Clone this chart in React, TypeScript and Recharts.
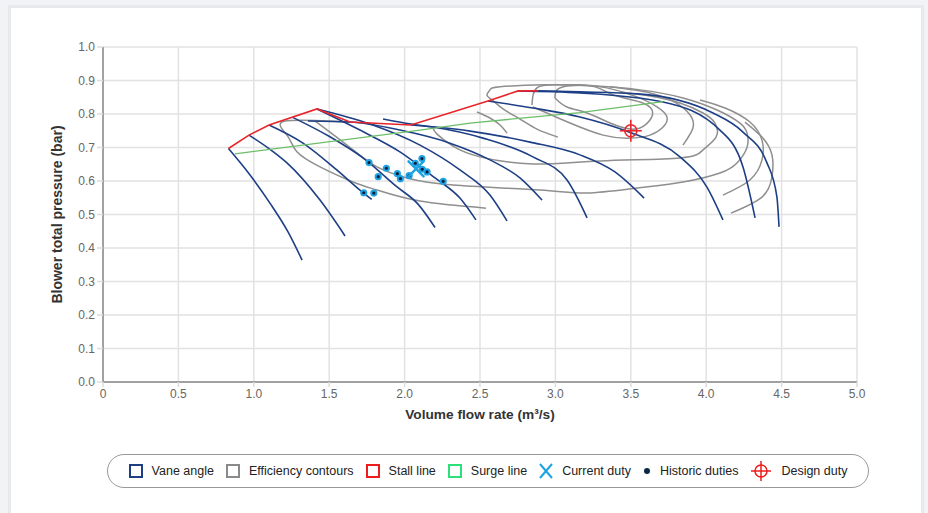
import { ComposedChart, Line, XAxis, YAxis, CartesianGrid } from "recharts";

type P = [number, number];

const xTicks = [0, 0.5, 1, 1.5, 2, 2.5, 3, 3.5, 4, 4.5, 5];
const yTicks = [0, 0.1, 0.2, 0.3, 0.4, 0.5, 0.6, 0.7, 0.8, 0.9, 1];

// vane angle curves, left to right
const vane1: P[] = [[0.832, 0.697], [0.975, 0.618], [1.107, 0.534], [1.227, 0.448], [1.32, 0.364]];
const vane2: P[] = [[0.968, 0.737], [1.094, 0.699], [1.22, 0.654], [1.439, 0.543], [1.605, 0.436]];
const vane3: P[] = [[1.101, 0.767], [1.326, 0.713], [1.55, 0.633], [1.704, 0.573], [1.782, 0.545]];
const vane4: P[] = [[1.258, 0.79], [1.505, 0.732], [1.724, 0.669], [1.948, 0.583], [2.089, 0.531], [2.202, 0.461]];
const vane5: P[] = [[1.419, 0.815], [1.704, 0.752], [1.969, 0.687], [2.202, 0.609], [2.367, 0.549], [2.473, 0.484]];
const vane6: P[] = [[1.419, 0.815], [1.771, 0.77], [2.102, 0.707], [2.367, 0.633], [2.566, 0.558], [2.679, 0.481]];
const vane7: P[] = [[1.359, 0.779], [1.638, 0.776], [1.969, 0.752], [2.301, 0.713], [2.566, 0.663], [2.765, 0.609], [2.911, 0.543]];
const vane8: P[] = [[1.857, 0.785], [2.042, 0.77], [2.188, 0.761], [2.52, 0.728], [2.851, 0.672], [3.077, 0.603], [3.21, 0.49]];
const vane9: P[] = [[2.042, 0.767], [2.434, 0.749], [2.832, 0.716], [3.163, 0.678], [3.395, 0.627], [3.588, 0.549]];
const vane10: P[] = [[2.553, 0.839], [2.851, 0.818], [3.163, 0.791], [3.488, 0.746], [3.826, 0.672], [4.005, 0.582], [4.111, 0.484]];
const vane11: P[] = [[2.752, 0.869], [3.163, 0.863], [3.714, 0.836], [4.091, 0.752], [4.244, 0.642], [4.324, 0.49]];
const vane12: P[] = [[2.885, 0.869], [3.163, 0.866], [3.548, 0.86], [4.045, 0.803], [4.244, 0.746], [4.403, 0.654], [4.469, 0.552], [4.483, 0.463]];
const vaneAngles = [vane1, vane2, vane3, vane4, vane5, vane6, vane7, vane8, vane9, vane10, vane11, vane12];

// efficiency contours
const eff1: P[] = [[1.638, 0.776], [1.207, 0.779], [1.22, 0.737], [1.286, 0.687], [1.439, 0.642], [1.658, 0.597], [1.817, 0.573], [2.102, 0.54], [2.54, 0.519]];
const eff2: P[] = [[1.406, 0.779], [1.505, 0.746], [1.658, 0.693], [1.817, 0.642], [2.016, 0.609], [2.321, 0.588], [2.898, 0.573], [3.21, 0.564], [3.541, 0.579], [3.846, 0.597], [4.091, 0.624], [4.204, 0.654], [4.271, 0.701], [4.271, 0.743], [4.224, 0.773], [4.072, 0.812], [3.846, 0.848], [3.561, 0.872], [3.229, 0.884], [2.931, 0.887], [2.633, 0.881], [2.566, 0.872], [2.546, 0.857], [2.58, 0.842], [2.653, 0.815], [2.765, 0.785], [2.878, 0.755], [3.017, 0.731]];
const eff3: P[] = [[2.188, 0.758], [2.215, 0.74], [2.321, 0.704], [2.5, 0.672], [2.851, 0.651], [3.296, 0.66], [3.826, 0.669], [3.979, 0.693], [4.065, 0.731], [4.058, 0.773], [3.979, 0.803], [3.826, 0.833], [3.627, 0.854], [3.428, 0.866]];
const eff4: P[] = [[2.845, 0.827], [2.878, 0.878], [3.011, 0.887], [3.163, 0.887], [3.342, 0.878], [3.541, 0.851], [3.674, 0.821], [3.74, 0.791], [3.714, 0.761], [3.627, 0.737], [3.495, 0.728], [3.316, 0.737], [3.097, 0.773], [2.944, 0.803], [2.851, 0.821]];
const eff5: P[] = [[2.997, 0.848], [3.011, 0.872], [3.097, 0.884], [3.263, 0.881], [3.382, 0.857], [3.561, 0.836], [3.641, 0.812], [3.627, 0.782], [3.528, 0.755], [3.362, 0.773], [3.21, 0.803], [3.077, 0.821], [2.997, 0.848]];
const eff6: P[] = [[3.846, 0.707], [3.912, 0.758], [3.893, 0.797], [3.8, 0.833], [3.627, 0.863], [3.362, 0.881]];
const eff7: P[] = [[2.48, 0.806], [2.566, 0.788], [2.633, 0.767], [2.679, 0.743]];
const eff8: P[] = [[4.111, 0.558], [4.29, 0.603], [4.37, 0.663], [4.37, 0.722], [4.29, 0.776], [4.125, 0.818], [3.959, 0.842]];
const eff9: P[] = [[4.164, 0.504], [4.37, 0.552], [4.436, 0.612], [4.436, 0.678], [4.37, 0.731], [4.257, 0.776]];
const efficiencyContours = [eff1, eff2, eff3, eff4, eff5, eff6, eff7, eff8, eff9];

const stallLine: P[] = [[0.832, 0.697], [0.968, 0.737], [1.101, 0.767], [1.419, 0.815], [1.638, 0.776], [2.042, 0.767], [2.553, 0.839], [2.752, 0.869], [2.885, 0.869]];
const surgeLine: P[] = [[0.875, 0.681], [2.102, 0.752], [2.434, 0.773], [3.163, 0.804], [3.714, 0.837]];

const currentDuty: P[] = [[2.076, 0.636]];
const historicDuties: P[] = [
  [1.764, 0.655], [1.879, 0.638], [1.825, 0.613], [1.952, 0.622], [1.972, 0.607], [2.03, 0.616],
  [2.071, 0.653], [2.115, 0.667], [2.117, 0.635], [2.149, 0.627], [2.256, 0.599], [1.729, 0.565], [1.796, 0.564],
];
const designDuty: P[] = [[3.5, 0.75]];

const pts = (a: P[]) => a.map(([x, y]) => ({ x, y }));

const BLUE = "#1d3f85";
const GREY = "#8f8f8f";
const RED = "#e8252a";
const GREEN = "#6cbf6a";
const LIGHTBLUE = "#1ea2e2";
const FONT = "'Liberation Sans', Arial, sans-serif";

const CrossDot = (p: any) => {
  const { cx, cy } = p;
  if (cx == null) return <g key={p.index} />;
  return (
    <g key={p.index} stroke={LIGHTBLUE} strokeWidth={2.5} strokeLinecap="round">
      <line x1={cx - 7.5} y1={cy - 7.5} x2={cx + 7.5} y2={cy + 7.5} />
      <line x1={cx - 7.5} y1={cy + 7.5} x2={cx + 7.5} y2={cy - 7.5} />
    </g>
  );
};

const HistoricDot = (p: any) => {
  const { cx, cy } = p;
  if (cx == null) return <g key={p.index} />;
  return <circle key={p.index} cx={cx} cy={cy} r={2.6} fill="#0a1f3a" stroke={LIGHTBLUE} strokeWidth={2} />;
};

const DesignDot = (p: any) => {
  const { cx, cy } = p;
  if (cx == null) return <g key={p.index} />;
  return (
    <g key={p.index} stroke={RED} strokeWidth={1.6} fill="none">
      <circle cx={cx} cy={cy} r={6} />
      <line x1={cx - 11} y1={cy} x2={cx + 11} y2={cy} />
      <line x1={cx} y1={cy - 11} x2={cx} y2={cy + 11} />
    </g>
  );
};

const YTitle = (props: any) => {
  const { viewBox } = props;
  const x = viewBox.x + 14;
  const y = viewBox.y + viewBox.height / 2;
  return (
    <text x={x} y={y} transform={`rotate(-90 ${x} ${y})`} textAnchor="middle" dominantBaseline="central"
      fontSize={14} fontWeight={600} fill="#333" fontFamily={FONT}>
      Blower total pressure (bar)
    </text>
  );
};

const XTitle = (props: any) => {
  const { viewBox } = props;
  return (
    <text x={viewBox.x + viewBox.width / 2} y={viewBox.y + 32} textAnchor="middle" dominantBaseline="central"
      fontSize={13.7} fontWeight={600} fill="#333" fontFamily={FONT}>
      Volume flow rate (m³/s)
    </text>
  );
};

const Box = ({ color }: { color: string }) => (
  <svg width={14} height={14}><rect x={1} y={1} width={12} height={12} fill="none" stroke={color} strokeWidth={2} /></svg>
);

const legendItems = [
  { label: "Vane angle", icon: <Box color={BLUE} /> },
  { label: "Efficiency contours", icon: <Box color="#8a8a8a" /> },
  { label: "Stall line", icon: <Box color="#ee1c1c" /> },
  { label: "Surge line", icon: <Box color="#2ee07a" /> },
  {
    label: "Current duty",
    icon: (
      <svg width={14} height={16} stroke={LIGHTBLUE} strokeWidth={2}>
        <line x1={1} y1={1} x2={13} y2={15} /><line x1={13} y1={1} x2={1} y2={15} />
      </svg>
    ),
  },
  { label: "Historic duties", icon: <svg width={8} height={8}><circle cx={4} cy={4} r={3} fill="#0b2747" /></svg> },
  {
    label: "Design duty",
    icon: (
      <svg width={22} height={22} stroke="#ee1c1c" strokeWidth={1.5} fill="none">
        <circle cx={11} cy={11} r={6} /><line x1={1} y1={11} x2={21} y2={11} /><line x1={11} y1={1} x2={11} y2={21} />
      </svg>
    ),
  },
];

export default function App() {
  return (
    <div style={{ position: "fixed", inset: 0, background: "#f2f3f5", fontFamily: FONT }}>
      <div style={{ position: "absolute", left: 8, top: 5, width: 910, height: 520, background: "#fff", border: "3px solid #e8e9ec" }} />
      <div style={{ position: "absolute", left: 0, top: 0 }}>
        <ComposedChart width={928} height={440} margin={{ top: 47, right: 71, bottom: 13, left: 43 }}>
          <CartesianGrid stroke="#e2e2e2" strokeWidth={1.5} />
          <XAxis
            type="number" dataKey="x" domain={[0, 5]} ticks={xTicks} interval={0} height={45}
            tickFormatter={(v: number) => (v === 0 ? "0" : v.toFixed(1))}
            tick={{ fontSize: 12, fill: "#666", fontFamily: FONT }}
            tickLine={{ stroke: "#dcdcdc", strokeWidth: 1.5 }} tickSize={5}
            axisLine={{ stroke: "#888", strokeWidth: 1.5 }}
            label={XTitle}
          />
          <YAxis
            type="number" dataKey="y" domain={[0, 1]} ticks={yTicks} interval={0} width={60}
            tickFormatter={(v: number) => v.toFixed(1)}
            tick={{ fontSize: 12, fill: "#666", fontFamily: FONT }}
            tickLine={{ stroke: "#dcdcdc", strokeWidth: 1.5 }} tickSize={6}
            axisLine={{ stroke: "#888", strokeWidth: 1.5 }}
            label={YTitle}
          />
          {efficiencyContours.map((c, i) => (
            <Line key={"e" + i} data={pts(c)} dataKey="y" type="natural" stroke={GREY} strokeWidth={1.5} dot={false} activeDot={false} isAnimationActive={false} />
          ))}
          {vaneAngles.map((c, i) => (
            <Line key={"v" + i} data={pts(c)} dataKey="y" type="monotone" stroke={BLUE} strokeWidth={1.6} dot={false} activeDot={false} isAnimationActive={false} />
          ))}
          <Line data={pts(surgeLine)} dataKey="y" type="linear" stroke={GREEN} strokeWidth={1.3} dot={false} activeDot={false} isAnimationActive={false} />
          <Line data={pts(stallLine)} dataKey="y" type="linear" stroke={RED} strokeWidth={1.6} dot={false} activeDot={false} isAnimationActive={false} />
          <Line data={pts(historicDuties)} dataKey="y" stroke="none" dot={HistoricDot} activeDot={false} isAnimationActive={false} />
          <Line data={pts(currentDuty)} dataKey="y" stroke="none" dot={CrossDot} activeDot={false} isAnimationActive={false} />
          <Line data={pts(designDuty)} dataKey="y" stroke="none" dot={DesignDot} activeDot={false} isAnimationActive={false} />
        </ComposedChart>
      </div>
      <div
        style={{
          position: "absolute", left: 107, top: 454, width: 760, height: 32, border: "1px solid #999", borderRadius: 17,
          display: "flex", alignItems: "center", justifyContent: "center", fontSize: 12.5, color: "#222",
        }}
      >
        {legendItems.map((it, i) => (
          <div key={it.label} style={{ display: "flex", alignItems: "center", marginRight: i < legendItems.length - 1 ? 12 : 0 }}>
            {it.icon}
            <span style={{ marginLeft: 9 }}>{it.label}</span>
          </div>
        ))}
      </div>
    </div>
  );
}
